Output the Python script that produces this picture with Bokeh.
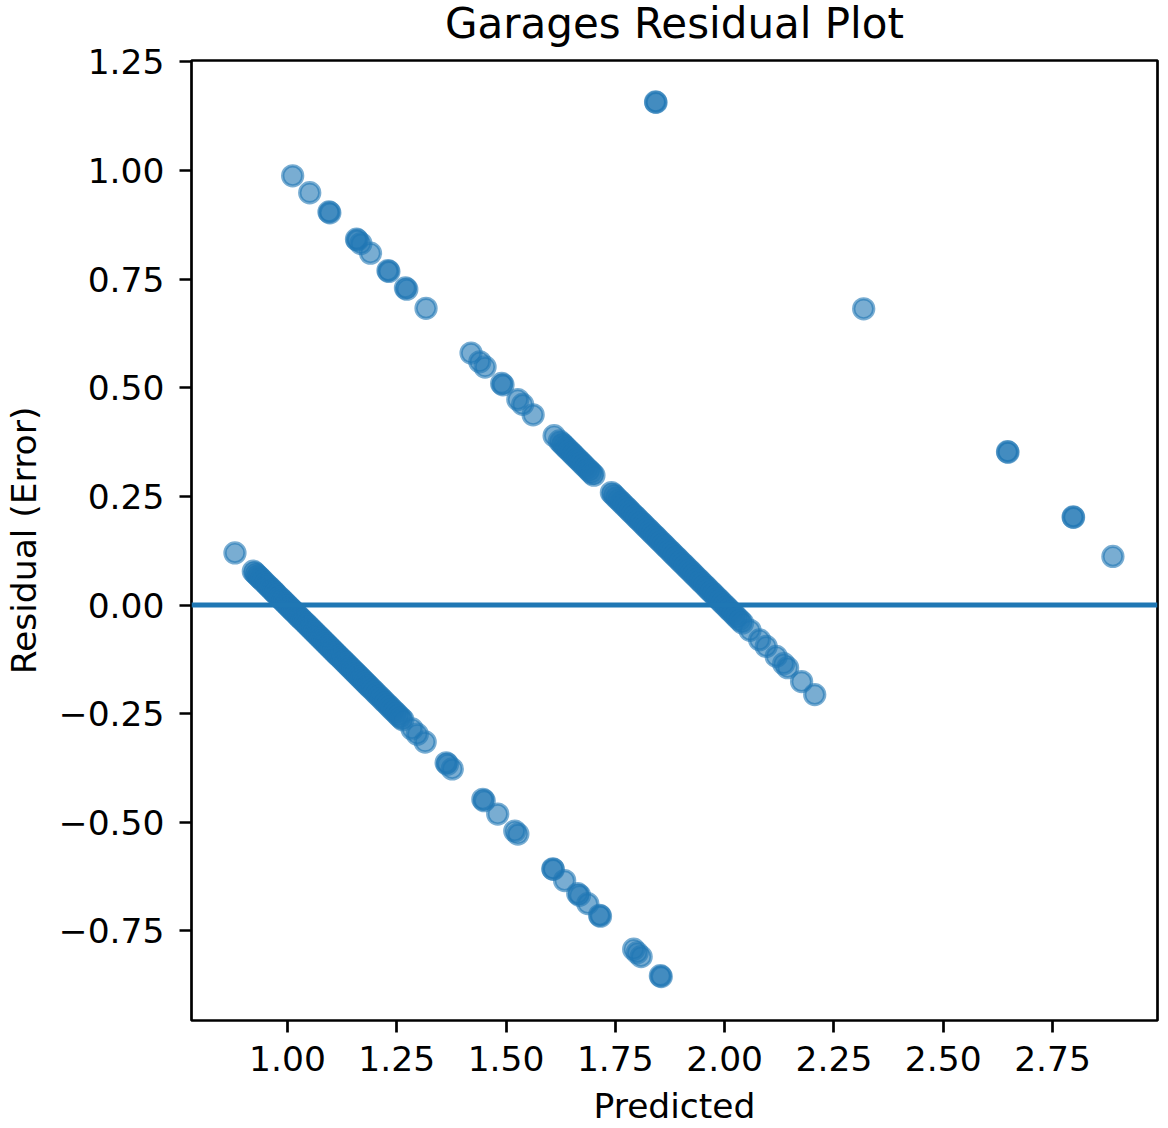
from bokeh.plotting import figure
from bokeh.models import Range1d, FixedTicker, CustomJSTickFormatter, Span, ColumnDataSource
from bokeh.embed import file_html
from bokeh.resources import INLINE

# ---- data ----
x_ticks = [1.00, 1.25, 1.50, 1.75, 2.00, 2.25, 2.50, 2.75]
y_ticks = [-0.75, -0.50, -0.25, 0.00, 0.25, 0.50, 0.75, 1.00, 1.25]

# predicted values for houses whose actual garage count is 1
pred_one = [
    0.880,
    0.922, 0.926, 0.930, 0.934, 0.937, 0.941, 0.945, 0.950, 0.954, 0.958,
    0.962, 0.966, 0.970, 0.973, 0.977, 0.982, 0.986, 0.990, 0.994, 0.998,
    1.002, 1.006, 1.010, 1.013, 1.017, 1.022, 1.026, 1.030, 1.034, 1.038,
    1.042, 1.046, 1.050, 1.054, 1.058, 1.062, 1.066, 1.070, 1.074, 1.078,
    1.082, 1.086, 1.090, 1.094, 1.098, 1.102, 1.106, 1.110, 1.114, 1.118,
    1.122, 1.126, 1.130, 1.134, 1.138, 1.142, 1.146, 1.150, 1.154, 1.158,
    1.162, 1.166, 1.170, 1.174, 1.178, 1.182, 1.186, 1.190, 1.195, 1.200,
    1.205, 1.210, 1.215, 1.220, 1.225, 1.230, 1.235, 1.240, 1.245, 1.250,
    1.255, 1.260, 1.264,
    1.285, 1.297, 1.315,
    1.363, 1.366, 1.377,
    1.447, 1.450, 1.481, 1.520, 1.527,
    1.607, 1.608, 1.634, 1.664, 1.668, 1.687, 1.714, 1.716,
    1.792, 1.800, 1.809, 1.853, 1.855,
]

# predicted values for houses whose actual garage count is 2
pred_two = [
    1.012, 1.051, 1.095, 1.097, 1.158, 1.160, 1.168, 1.190, 1.230, 1.232,
    1.270, 1.273, 1.317,
    1.420, 1.440, 1.452, 1.490, 1.493, 1.527, 1.538, 1.562,
    1.610,
    1.622, 1.627, 1.631, 1.636, 1.640, 1.645, 1.650, 1.654, 1.659, 1.664,
    1.668, 1.673, 1.678, 1.683, 1.688, 1.692, 1.697, 1.701,
    1.741, 1.745,
    1.750, 1.755, 1.760, 1.765, 1.770, 1.775, 1.780, 1.785, 1.790, 1.795,
    1.800, 1.805, 1.810, 1.815, 1.820, 1.825, 1.830, 1.835, 1.840, 1.845,
    1.850, 1.855, 1.860, 1.865, 1.870, 1.875, 1.880, 1.885, 1.890, 1.895,
    1.900, 1.905, 1.910, 1.915, 1.920, 1.925, 1.930, 1.935, 1.940, 1.945,
    1.950, 1.955, 1.960, 1.965, 1.970, 1.975, 1.980, 1.985, 1.990, 1.995,
    2.000, 2.005, 2.010, 2.015, 2.020, 2.025, 2.030, 2.036, 2.041,
    2.058, 2.080, 2.095, 2.118, 2.135, 2.144, 2.176, 2.206,
]

# predicted values for houses whose actual garage count is 3
pred_three = [1.842, 1.843, 2.318, 2.647, 2.648, 2.797, 2.798, 2.888]

actual = [1] * len(pred_one) + [2] * len(pred_two) + [3] * len(pred_three)
predicted = pred_one + pred_two + pred_three
residual = [a - p for a, p in zip(actual, predicted)]

source = ColumnDataSource(data=dict(predicted=predicted, residual=residual))

BLUE = "#1f77b4"
FONT = "DejaVu Sans"
SHIFT = 20  # canvas is shifted up so the title can sit close to the page top

p = figure(
    width=1168, height=1128 + SHIFT,
    output_backend="svg", toolbar_location=None,
    x_range=Range1d(0.7806, 2.990), y_range=Range1d(-0.956, 1.2534),
    title="Garages Residual Plot",
    min_border_left=190, min_border_right=11,
    min_border_top=60 + SHIFT, min_border_bottom=107,
    background_fill_color="white", border_fill_color="white",
)
p.styles = {"margin-top": f"-{SHIFT}px"}

p.scatter("predicted", "residual", source=source, size=20,
          fill_color=BLUE, fill_alpha=0.6,
          line_color=BLUE, line_alpha=0.6, line_width=3.3)

p.add_layout(Span(location=0, dimension="width", line_color=BLUE, line_width=5))

# title
p.title.text_font = FONT
p.title.text_font_size = "42px"
p.title.text_font_style = "normal"
p.title.text_color = "black"
p.title.align = "center"
p.title.vertical_align = "bottom"
p.title.standoff = 25

# frame
p.grid.visible = False
p.outline_line_color = "black"
p.outline_line_width = 2.7
p.outline_line_alpha = 1.0

fmt = CustomJSTickFormatter(code="""
const v = Math.abs(tick) < 1e-9 ? 0 : tick;
return (v < 0 ? '\\u2212' : '') + Math.abs(v).toFixed(2);
""")

p.xaxis.ticker = FixedTicker(ticks=x_ticks)
p.yaxis.ticker = FixedTicker(ticks=y_ticks)
for ax in (p.xaxis, p.yaxis):
    ax.formatter = fmt
    ax.axis_line_color = None
    ax.major_tick_out = 12
    ax.major_tick_in = 0
    ax.major_tick_line_width = 2.7
    ax.major_tick_line_color = "black"
    ax.minor_tick_line_color = None
    ax.major_label_text_font = FONT
    ax.major_label_text_font_size = "34.5px"
    ax.major_label_text_color = "black"
    ax.axis_label_text_font = FONT
    ax.axis_label_text_font_size = "34.5px"
    ax.axis_label_text_font_style = "normal"
    ax.axis_label_text_color = "black"

p.xaxis.axis_label = "Predicted"
p.yaxis.axis_label = "Residual (Error)"
p.xaxis.major_label_standoff = 13
p.xaxis.axis_label_standoff = 12
p.yaxis.major_label_standoff = 15
p.yaxis.axis_label_standoff = 12

with open("out.html", "w", encoding="utf-8") as f:
    f.write(file_html(p, INLINE))
